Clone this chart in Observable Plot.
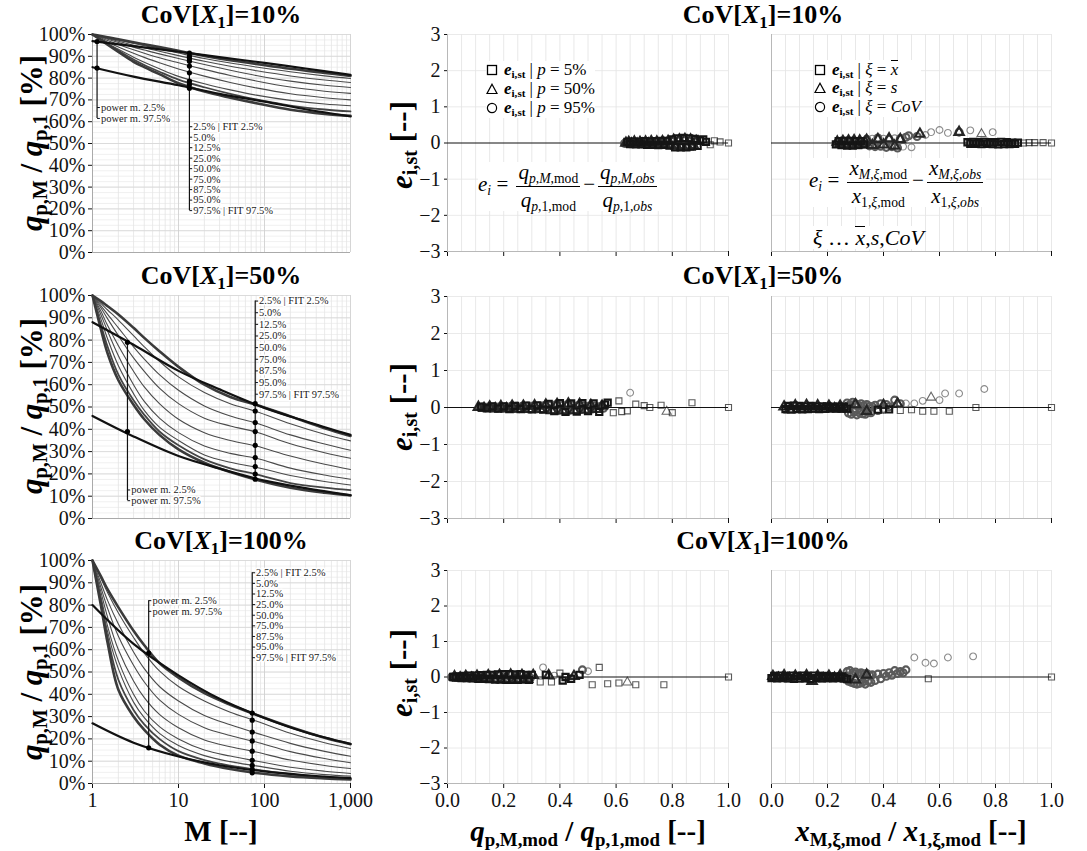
<!DOCTYPE html>
<html><head><meta charset="utf-8">
<script src="https://cdn.jsdelivr.net/npm/d3@7"></script>
<script src="https://cdn.jsdelivr.net/npm/@observablehq/plot@0.6"></script>
<style>
body{margin:0;background:#fff}
#root{position:relative;width:1087px;height:851px;overflow:hidden;font-family:"Liberation Serif","Times New Roman",serif;color:#000;background:#fff}
.abs{position:absolute;white-space:nowrap;transform:translate(-50%,-50%);line-height:1}
.rot{transform:translate(-50%,-50%) rotate(-90deg)}
.title{font-weight:bold;font-size:26px}
.ax{font-weight:bold;font-size:29px}
.axy{font-weight:bold;font-size:31px}
sub{font-size:0.65em;vertical-align:-0.28em;line-height:0}
.box{position:absolute;background:#fff;white-space:nowrap;line-height:1}
.frac{display:inline-flex;flex-direction:column;vertical-align:middle;text-align:center;margin:0 3px}
.frac .n{border-bottom:1.3px solid #000;padding:0 2px 3px}
.frac .d{padding:3px 2px 0}
.leg div{height:19px;font-size:17px}
</style></head>
<body><div id="root"></div>
<script>
// ---------------- DATA ----------------
const G = [1, 1.25, 1.5, 2, 3, 4, 6, 10, 20, 40, 80, 200, 500, 1000];
const quantLabels = ["2.5% | FIT 2.5%", "5.0%", "12.5%", "25.0%", "50.0%", "75.0%", "87.5%", "95.0%", "97.5% | FIT 97.5%"];
const powLabels = ["power m. 2.5%", "power m. 97.5%"];

const cov10Curves = [
  [100, 99.3, 98.7, 97.8, 96.4, 95.5, 94.2, 92.5, 90.2, 88.2, 86.5, 84.3, 82.4, 81.0],
  [100, 99.2, 98.5, 97.4, 95.9, 94.9, 93.4, 91.5, 89.0, 86.9, 85.1, 82.9, 81.0, 79.8],
  [100, 99.0, 98.2, 96.9, 95.1, 93.9, 92.3, 90.3, 87.7, 85.4, 83.4, 81.0, 79.1, 78.0],
  [100, 98.8, 97.8, 96.3, 94.2, 92.9, 91.1, 89.0, 86.2, 83.6, 81.2, 78.6, 76.7, 75.7],
  [100, 98.5, 97.2, 95.4, 93.0, 91.4, 89.3, 87.0, 84.0, 81.2, 78.7, 75.9, 74.0, 73.0],
  [100, 98.1, 96.5, 94.3, 91.4, 89.5, 87.0, 84.2, 80.9, 78.0, 75.5, 72.8, 71.0, 70.0],
  [100, 97.8, 95.9, 93.2, 89.6, 87.3, 84.3, 80.8, 77.4, 74.6, 72.2, 69.8, 68.1, 67.3],
  [100, 97.6, 95.6, 92.6, 88.5, 86.0, 82.9, 79.3, 75.8, 72.8, 70.2, 67.4, 65.6, 64.7],
  [100, 97.5, 95.3, 92.0, 87.5, 85.0, 81.8, 77.6, 73.8, 71.0, 68.5, 65.5, 63.6, 62.7]
];
const cov50Curves = [
  [100, 97.5, 95.2, 91.5, 85.5, 81.0, 75.0, 68.0, 60.0, 54.5, 51.0, 45.8, 40.5, 37.0],
  [100, 96.5, 93.5, 89.0, 82.0, 77.0, 70.5, 63.5, 56.5, 51.5, 48.0, 42.5, 37.8, 34.8],
  [100, 95.5, 91.5, 85.5, 77.0, 71.5, 64.5, 57.5, 50.5, 46.0, 42.8, 37.5, 33.4, 30.6],
  [100, 94.5, 89.5, 82.0, 72.0, 66.0, 58.5, 51.5, 45.0, 41.5, 38.8, 33.5, 29.5, 27.0],
  [100, 93.0, 86.5, 77.5, 66.0, 59.0, 51.5, 44.5, 38.5, 35.0, 32.5, 28.0, 24.3, 22.0],
  [100, 91.5, 84.0, 73.0, 60.0, 52.5, 45.0, 38.5, 32.5, 29.2, 27.0, 22.6, 19.5, 17.6],
  [100, 89.5, 80.5, 68.5, 56.0, 48.5, 41.0, 35.0, 28.5, 25.2, 23.0, 19.3, 16.6, 15.0],
  [100, 87.0, 77.0, 64.5, 53.0, 46.5, 39.0, 32.8, 26.5, 22.5, 19.8, 15.9, 13.8, 12.7],
  [100, 85.0, 74.0, 62.0, 51.0, 44.5, 37.5, 31.0, 25.0, 20.8, 17.4, 13.8, 11.6, 10.4]
];
const cov100Curves = [
  [100, 93.0, 87.0, 79.0, 68.5, 62.0, 54.0, 47.5, 40.5, 35.3, 30.8, 25.3, 20.5, 17.6],
  [100, 92.0, 85.5, 76.5, 65.5, 58.5, 50.5, 43.5, 37.0, 32.0, 28.0, 22.5, 18.3, 15.7],
  [100, 90.0, 82.0, 71.5, 59.0, 51.5, 43.5, 37.0, 30.5, 26.3, 22.6, 18.0, 14.4, 12.2],
  [100, 88.0, 78.5, 66.0, 53.0, 45.5, 37.5, 31.0, 25.0, 21.5, 18.6, 14.3, 11.2, 9.3],
  [100, 86.0, 74.5, 60.0, 46.0, 38.5, 31.0, 25.0, 19.5, 16.5, 14.1, 10.5, 8.1, 6.7],
  [100, 84.0, 70.5, 55.0, 40.0, 32.5, 25.5, 20.0, 15.0, 12.3, 10.1, 7.3, 5.5, 4.5],
  [100, 83.0, 68.0, 51.5, 36.5, 29.5, 22.5, 17.0, 12.5, 9.8, 7.9, 5.5, 4.0, 3.3],
  [100, 81.5, 65.5, 46.5, 33.0, 26.5, 20.0, 14.5, 10.5, 8.0, 6.2, 4.2, 2.9, 2.2],
  [100, 80.0, 63.0, 42.0, 30.0, 24.0, 17.5, 12.5, 9.0, 6.5, 4.7, 3.2, 2.3, 1.8]
];

const PM = [1, 3, 10, 30, 100, 300, 1000];
const pow10Hi = [97, 94.7, 92.1, 89.6, 87.0, 84.4, 81.5];
const pow10Lo = [85, 80.7, 76.7, 72.8, 69.2, 65.7, 62.4];
const pow50Hi = [88, 77.9, 66.2, 57.9, 49.6, 43.6, 37.5];
const pow50Lo = [46, 36.8, 28.0, 22.4, 17.0, 13.6, 10.4];
const pow100Hi = [80, 62.6, 48.5, 38.0, 29.4, 23.0, 17.8];
const pow100Lo = [27, 18.3, 12.1, 8.2, 5.4, 3.7, 2.4];

const powM10 = 1.13, powDots10 = [96.8, 84.6];
const powM50 = 2.55, powDots50 = [79, 39];
const powM100 = 4.5, powDots100 = [58.5, 16];
const qM10 = 13.4, qDots10 = [91.5, 90, 88.9, 87.7, 85.5, 82.4, 78.6, 77.1, 75.3];
const qM50 = 78, qDots50 = [51.5, 48.2, 43, 39, 32.8, 27.3, 23.3, 19.9, 17.6];
const qM100 = 72, qDots100 = [31.6, 28.4, 23.1, 19.1, 14.5, 10.4, 8.1, 6.3, 4.8];

// scatter CoV 10%
const sq10qX = [0.64,0.65,0.66,0.67,0.68,0.69,0.70,0.71,0.72,0.73,0.74,0.75,0.76,0.77,0.78,0.79,0.80,0.81,0.82,0.83,0.84,0.85,0.86,0.87,0.88,0.89,0.90,0.91,0.92,0.935,0.95,0.97,1.0];
const sq10qY = [0.03,-0.03,0.04,-0.04,0.03,-0.04,0.05,-0.05,0.04,-0.05,0.05,-0.06,0.06,-0.05,0.06,-0.07,0.10,-0.12,0.13,-0.12,0.14,-0.12,0.13,-0.10,0.11,-0.08,0.07,0.10,0.03,-0.05,0.06,0.03,0.0];
const tr10qX = [0.635,0.645,0.655,0.665,0.675,0.685,0.695,0.705,0.715,0.725,0.735,0.745,0.755,0.765,0.775,0.785,0.795,0.805,0.815,0.825,0.835,0.845,0.855,0.865,0.875,0.885];
const tr10qY = [0.0,0.02,-0.02,0.03,-0.03,0.02,-0.03,0.03,-0.02,0.04,-0.04,0.03,-0.04,0.04,-0.05,0.05,-0.06,0.08,-0.08,0.09,-0.09,0.1,-0.1,0.09,-0.07,0.05];
const ci10qX = [0.63,0.64,0.65,0.66,0.67,0.68,0.69,0.70,0.71,0.72,0.73,0.74,0.75,0.76,0.77,0.78,0.79,0.80,0.81,0.82,0.83,0.84,0.85,0.86,0.87,0.88];
const ci10qY = [-0.01,0.01,-0.02,0.02,-0.01,0.02,-0.02,0.01,-0.03,0.02,-0.02,0.03,-0.03,0.02,-0.03,0.03,-0.04,0.05,-0.06,0.06,-0.05,0.07,-0.06,0.05,-0.04,0.03];

const sq10xX = [0.23,0.24,0.25,0.26,0.27,0.28,0.29,0.30,0.31,0.32,0.33,0.70,0.71,0.72,0.73,0.74,0.75,0.76,0.77,0.78,0.79,0.80,0.81,0.82,0.83,0.84,0.85,0.86,0.87,0.88,0.90,0.92,0.94,0.97,1.0];
const sq10xY = [-0.04,0.05,-0.06,0.06,-0.07,0.06,-0.07,0.05,-0.06,0.05,-0.04,0.02,-0.02,0.03,-0.02,0.02,-0.03,0.03,-0.02,0.02,-0.03,0.02,-0.04,0.03,-0.03,0.02,-0.03,0.01,-0.02,0.01,0.0,0.01,0.01,0.01,0.0];
const tr10xX = [0.235,0.245,0.255,0.265,0.275,0.285,0.295,0.305,0.315,0.325,0.335,0.34,0.36,0.38,0.40,0.42,0.44,0.46,0.53,0.67,0.75];
const tr10xY = [0.03,-0.03,0.05,-0.05,0.06,-0.06,0.07,-0.05,0.06,-0.04,0.03,0.08,-0.06,0.1,-0.05,0.12,-0.08,0.1,0.25,0.3,0.25];
const ci10xX = [0.24,0.25,0.26,0.27,0.28,0.29,0.30,0.31,0.32,0.33,0.34,0.35,0.36,0.37,0.38,0.39,0.40,0.41,0.42,0.43,0.44,0.45,0.46,0.47,0.48,0.49,0.50,0.52,0.55,0.57,0.60,0.63,0.67,0.71,0.79];
const ci10xY = [0.02,-0.02,0.03,-0.03,0.02,-0.03,0.03,-0.02,0.02,-0.02,0.1,-0.08,0.12,-0.1,0.14,-0.09,0.12,-0.12,0.1,-0.1,0.13,-0.14,0.12,-0.1,0.16,0.2,-0.12,0.18,0.22,0.3,0.36,0.28,0.3,0.35,0.3];

// scatter CoV 50%
const sq50qX = [0.12,0.14,0.16,0.18,0.20,0.22,0.24,0.26,0.28,0.30,0.32,0.34,0.36,0.38,0.40,0.42,0.44,0.46,0.48,0.50,0.52,0.54,0.56,0.57,0.59,0.61,0.62,0.64,0.67,0.70,0.72,0.76,0.80,0.87,1.0];
const sq50qY = [0.02,-0.02,0.03,-0.03,0.03,-0.04,0.04,-0.04,0.05,-0.05,0.06,-0.06,0.1,-0.1,0.12,-0.12,0.11,-0.11,0.12,-0.1,0.11,-0.12,0.08,0.13,-0.14,0.18,-0.11,-0.09,0.09,0.05,0.0,0.06,-0.14,0.13,0.0];
const tr50qX = [0.11,0.13,0.15,0.17,0.19,0.21,0.23,0.25,0.27,0.29,0.31,0.33,0.35,0.37,0.39,0.41,0.43,0.45,0.47,0.49,0.51,0.53,0.55,0.78];
const tr50qY = [0.01,-0.02,0.02,-0.03,0.03,-0.03,0.04,-0.04,0.04,-0.05,0.05,-0.05,0.07,-0.08,0.09,-0.09,0.1,-0.08,0.09,-0.07,0.06,-0.05,0.04,-0.11];
const ci50qX = [0.115,0.125,0.135,0.145,0.155,0.165,0.175,0.185,0.195,0.205,0.215,0.225,0.235,0.245,0.255,0.265,0.275,0.285,0.295,0.305,0.315,0.325,0.335,0.345,0.355,0.365,0.375,0.385,0.395,0.405,0.415,0.425,0.435,0.445,0.455,0.465,0.475,0.485,0.495,0.505,0.515,0.525,0.535,0.545,0.555,0.65];
const ci50qY = [0.0,0.01,-0.01,0.01,-0.01,0.02,-0.02,0.02,-0.02,0.02,-0.02,0.03,-0.03,0.03,-0.03,0.03,-0.03,0.04,-0.04,0.04,-0.04,0.04,-0.04,0.05,-0.05,0.06,-0.06,0.07,-0.07,0.06,-0.06,0.07,-0.07,0.06,-0.06,0.05,-0.05,0.05,-0.05,0.04,-0.04,0.04,-0.03,0.03,-0.02,0.4];

const sq50xX = [0.05,0.06,0.07,0.08,0.09,0.10,0.11,0.12,0.13,0.14,0.15,0.16,0.17,0.18,0.19,0.20,0.21,0.22,0.23,0.24,0.25,0.26,0.27,0.38,0.42,0.46,0.50,0.54,0.58,0.635,0.73,1.0];
const sq50xY = [-0.04,0.04,-0.05,0.05,-0.04,0.04,-0.05,0.03,-0.04,0.04,-0.03,0.03,-0.04,0.03,-0.03,0.03,-0.02,0.02,-0.03,0.02,-0.03,0.02,-0.03,-0.06,-0.05,-0.08,-0.06,-0.1,-0.1,-0.1,0.0,0.0];
const tr50xX = [0.045,0.065,0.085,0.105,0.125,0.145,0.165,0.185,0.205,0.225,0.245,0.265,0.30,0.34,0.40,0.45,0.57];
const tr50xY = [0.02,-0.06,0.05,-0.05,0.06,-0.04,0.05,-0.05,0.04,-0.03,0.04,-0.04,0.08,-0.1,0.06,0.1,0.27];
const ci50xX = [0.27,0.275,0.28,0.285,0.29,0.295,0.30,0.305,0.31,0.315,0.32,0.325,0.33,0.335,0.34,0.345,0.35,0.355,0.36,0.37,0.38,0.39,0.40,0.41,0.42,0.44,0.46,0.48,0.51,0.54,0.60,0.62,0.67,0.76];
const ci50xY = [0.12,-0.15,0.08,-0.18,0.14,-0.12,0.1,-0.2,0.06,-0.15,0.1,-0.17,0.05,-0.18,0.08,-0.12,0.03,-0.14,0.02,0.06,-0.08,0.1,-0.05,0.08,0.02,0.2,0.1,0.11,0.11,0.18,0.2,0.38,0.38,0.5];

// scatter CoV 100%
const sq100qX = [0.02,0.03,0.04,0.05,0.06,0.07,0.08,0.09,0.10,0.11,0.12,0.13,0.14,0.15,0.16,0.17,0.18,0.19,0.20,0.21,0.22,0.23,0.24,0.25,0.26,0.27,0.28,0.29,0.30,0.33,0.35,0.37,0.40,0.41,0.42,0.44,0.47,0.515,0.54,0.57,0.61,0.67,0.77,1.0];
const sq100qY = [0.0,-0.02,0.02,-0.03,0.03,-0.03,0.04,-0.04,0.04,-0.05,0.05,-0.05,0.06,-0.06,0.06,-0.07,0.07,-0.07,0.08,-0.08,0.08,-0.08,0.07,-0.08,0.08,-0.07,0.06,-0.08,0.06,-0.14,0.06,-0.14,0.11,-0.1,0.0,-0.05,0.06,-0.22,0.27,-0.19,-0.17,-0.22,-0.22,0.0];
const tr100qX = [0.025,0.045,0.065,0.085,0.105,0.125,0.145,0.165,0.185,0.205,0.225,0.245,0.265,0.285,0.305,0.36,0.45,0.64];
const tr100qY = [0.01,-0.02,0.02,-0.03,0.03,-0.04,0.04,-0.05,0.05,-0.06,0.06,-0.06,0.05,-0.06,0.05,0.04,0.02,-0.15];
const ci100qX = [0.015,0.025,0.035,0.045,0.055,0.065,0.075,0.085,0.095,0.105,0.115,0.125,0.135,0.145,0.155,0.165,0.175,0.185,0.195,0.205,0.215,0.225,0.235,0.245,0.255,0.265,0.275,0.285,0.295,0.34,0.38,0.48,0.50];
const ci100qY = [0.0,0.01,-0.01,0.02,-0.02,0.02,-0.03,0.03,-0.03,0.04,-0.04,0.04,-0.05,0.05,-0.05,0.05,-0.06,0.06,-0.06,0.06,-0.05,0.06,-0.05,0.05,-0.04,0.05,-0.04,0.04,-0.03,0.27,0.04,0.2,0.16];

const sq100xX = [0.00,0.01,0.02,0.03,0.04,0.05,0.06,0.07,0.08,0.09,0.10,0.11,0.12,0.13,0.14,0.15,0.16,0.17,0.18,0.19,0.20,0.21,0.22,0.23,0.24,0.25,0.26,0.27,0.56,1.0];
const sq100xY = [-0.03,0.03,-0.04,0.04,-0.03,0.03,-0.04,0.04,-0.05,0.03,-0.04,0.04,-0.03,0.03,-0.05,0.04,-0.03,0.03,-0.04,0.03,-0.03,0.02,-0.04,0.02,-0.03,0.02,-0.04,-0.06,-0.05,0.0];
const tr100xX = [0.005,0.025,0.045,0.065,0.085,0.105,0.125,0.145,0.165,0.185,0.205,0.225,0.245,0.265,0.30,0.34];
const tr100xY = [0.02,-0.03,0.04,-0.04,0.03,-0.05,0.04,-0.12,0.03,-0.04,0.03,-0.03,0.04,-0.05,-0.08,0.06];
const ci100xX = [0.27,0.275,0.28,0.285,0.29,0.295,0.30,0.305,0.31,0.315,0.32,0.325,0.33,0.335,0.34,0.345,0.35,0.355,0.36,0.37,0.38,0.39,0.40,0.41,0.42,0.43,0.44,0.45,0.46,0.47,0.48,0.51,0.55,0.58,0.63,0.72];
const ci100xY = [0.15,-0.12,0.18,-0.15,0.12,-0.18,0.14,-0.2,0.1,-0.18,0.12,-0.15,0.08,-0.2,0.1,-0.12,0.05,-0.15,0.06,-0.1,0.08,-0.05,0.1,0.02,0.12,0.05,0.18,0.1,0.15,0.12,0.2,0.55,0.4,0.38,0.55,0.58];

// ---------------- DRAWING ----------------
const root = document.getElementById("root");
const FONT = "'Liberation Serif','Times New Roman',serif";

function place(node, left, top) {
  node.style.position = "absolute";
  node.style.left = left + "px";
  node.style.top = top + "px";
  root.appendChild(node);
}
function label(html, cx, cy, cls, rot) {
  const d = document.createElement("div");
  d.className = "abs " + cls + (rot ? " rot" : "");
  d.innerHTML = html;
  d.style.left = cx + "px";
  d.style.top = cy + "px";
  root.appendChild(d);
}

const minorX = [];
for (let e = 0; e < 3; e++) for (let k = 2; k < 10; k++) minorX.push(k * Math.pow(10, e));

function leftPanel(c) {
  const lines = c.curves.flatMap((arr, k) => arr.map((v, i) => ({M: G[i], v, k})));
  const pows = [
    ...c.powHi.map((v, i) => ({M: PM[i], v, k: "hi"})),
    ...c.powLo.map((v, i) => ({M: PM[i], v, k: "lo"}))
  ];
  const powLab = powLabels.map((t, i) => ({t, y: c.powLabY[i]}));
  const qLab = quantLabels.map((t, i) => ({t, y: c.qLabStart - i * c.qLabStep}));
  const pExt = d3.extent([...c.powDots, ...c.powLabY]);
  const qExt = d3.extent([...c.qDots, ...qLab.map(d => d.y)]);
  const txt = {textAnchor: "start", dx: 1, fontSize: 10.5, fill: "#222", stroke: "#fff", strokeWidth: 3, paintOrder: "stroke"};
  return Plot.plot({
    width: 375, height: c.mt + c.ph + c.mb,
    marginLeft: 92, marginRight: 25, marginTop: c.mt, marginBottom: c.mb,
    style: {fontFamily: FONT, fontSize: "20px", background: "transparent", color: "#111"},
    x: {type: "log", domain: [1, 1000], ticks: [1, 10, 100, 1000],
        tickFormat: c.bottom ? d3.format(",") : () => "", tickSize: c.bottom ? 5 : 0, label: null},
    y: {domain: [0, 100], ticks: d3.range(0, 101, 10), tickFormat: d => d + "%", tickSize: 4, tickPadding: 3, label: null},
    marks: [
      Plot.ruleY(d3.range(0, 100.1, 2.5), {stroke: "#ececec", strokeWidth: 0.8}),
      Plot.ruleX(minorX, {stroke: "#e4e4e4", strokeWidth: 0.8}),
      Plot.ruleY(d3.range(10, 100.1, 10), {stroke: "#d6d6d6", strokeWidth: 0.8}),
      Plot.ruleX([10, 100, 1000], {stroke: "#d0d0d0", strokeWidth: 0.9}),
      Plot.ruleX([1], {stroke: "#aaa"}),
      Plot.ruleY([0], {stroke: "#aaa"}),
      Plot.line(lines.filter(d => d.k > 0 && d.k < 7), {x: "M", y: "v", z: "k", stroke: "#4a4a4a", strokeWidth: 1.1, curve: "catmull-rom"}),
      Plot.line(lines.filter(d => d.k === 7), {x: "M", y: "v", z: "k", stroke: "#444", strokeWidth: 1.8, curve: "catmull-rom"}),
      Plot.line(lines.filter(d => d.k === 0 || d.k === 8), {x: "M", y: "v", z: "k", stroke: "#3a3a3a", strokeWidth: 2.6, curve: "catmull-rom"}),
      Plot.line(pows, {x: "M", y: "v", z: "k", stroke: "#111", strokeWidth: 2.2, curve: "catmull-rom"}),
      Plot.ruleX([c.powM], {x: d => d, y1: () => pExt[0], y2: () => pExt[1], stroke: "#111", strokeWidth: 1.2}),
      Plot.ruleX([c.qM], {x: d => d, y1: () => qExt[0], y2: () => qExt[1], stroke: "#111", strokeWidth: 1.2}),
      Plot.link(powLab, {x1: () => c.powM, x2: () => c.powM * 1.08, y1: "y", y2: "y", stroke: "#111", strokeWidth: 1}),
      Plot.link(qLab, {x1: () => c.qM, x2: () => c.qM * 1.08, y1: "y", y2: "y", stroke: "#111", strokeWidth: 1}),
      Plot.text(powLab, {x: () => c.powM * 1.08, y: "y", text: "t", ...txt}),
      Plot.text(qLab, {x: () => c.qM * 1.08, y: "y", text: "t", ...txt}),
      Plot.dot(c.powDots, {x: () => c.powM, y: d => d, fill: "#000", r: 2.6}),
      Plot.dot(c.qDots, {x: () => c.qM, y: d => d, fill: "#000", r: 2.6})
    ]
  });
}

function scatterPanel(c) {
  const rows = [
    ...c.cx.map((x, i) => ({x, y: c.cy[i], s: "circle"})),
    ...c.tx.map((x, i) => ({x, y: c.ty[i], s: "triangle"})),
    ...c.sx.map((x, i) => ({x, y: c.sy[i], s: "square"}))
  ];
  // a point belongs to a dense cloud when another point lies very close to it
  rows.forEach(d => {
    d.dense = rows.some(e => e !== d && Math.abs(e.x - d.x) <= 0.012 && Math.abs(e.y - d.y) <= 0.16);
  });
  const dense = rows.filter(d => d.dense), sparse = rows.filter(d => !d.dense);
  return Plot.plot({
    width: c.w, height: c.mt + c.ph + c.mb,
    marginLeft: c.ml, marginRight: c.w - c.ml - c.pw, marginTop: c.mt, marginBottom: c.mb,
    style: {fontFamily: FONT, fontSize: "20px", background: "transparent", color: "#111"},
    x: {domain: [0, 1], ticks: [0, 0.2, 0.4, 0.6, 0.8, 1.0], tickFormat: c.bottom ? d3.format(".1f") : () => "", tickSize: 5, label: null},
    y: {domain: [-3, 3], ticks: d3.range(-3, 4), tickFormat: d3.format("d"), axis: c.showY ? "left" : null, tickSize: 3, tickPadding: 4, label: null},
    symbol: {domain: ["square", "triangle", "circle"], range: ["square", "triangle", "circle"]},
    color: {domain: ["square", "triangle", "circle"], range: ["#151515", "#262626", "#5a5a5a"]},
    marks: [
      Plot.ruleX(d3.range(0.05, 1.001, 0.05), {stroke: "#e2e2e2", strokeWidth: 0.8}),
      Plot.ruleY([-2, -1, 1, 2, 3], {stroke: "#e4e4e4", strokeWidth: 0.8}),
      Plot.ruleX([0], {stroke: "#b8b8b8"}),
      Plot.ruleY([-3], {stroke: "#b8b8b8"}),
      Plot.ruleY([0], {stroke: "#111", strokeWidth: 1.1}),
      Plot.dot(sparse, {x: "x", y: "y", symbol: "s", stroke: "s", strokeOpacity: 0.7, fill: "none", r: 3.4, strokeWidth: 1.1}),
      Plot.dot(dense, {x: "x", y: "y", symbol: "s", stroke: "s", fill: "none", r: 3.5, strokeWidth: 2.1})
    ]
  });
}

const leftRows = [
  {top: 24, mt: 10, ph: 218, mb: 12},
  {top: 285, mt: 10, ph: 223, mb: 12},
  {top: 550, mt: 10, ph: 223, mb: 45}
];
const scRows = [
  {top: 24, mt: 10, ph: 217, mb: 12},
  {top: 286, mt: 10, ph: 222, mb: 12},
  {top: 560, mt: 10, ph: 213, mb: 45}
];

const leftCfg = [
  {curves: cov10Curves, powHi: pow10Hi, powLo: pow10Lo, powM: powM10, powDots: powDots10, powLabY: [66.5, 61.5],
   qM: qM10, qDots: qDots10, qLabStart: 57.7, qLabStep: 4.81},
  {curves: cov50Curves, powHi: pow50Hi, powLo: pow50Lo, powM: powM50, powDots: powDots50, powLabY: [12.8, 8.0],
   qM: qM50, qDots: qDots50, qLabStart: 97.5, qLabStep: 5.22},
  {curves: cov100Curves, powHi: pow100Hi, powLo: pow100Lo, powM: powM100, powDots: powDots100, powLabY: [82, 77.2],
   qM: qM100, qDots: qDots100, qLabStart: 94.5, qLabStep: 4.76}
];
const midCfg = [
  {sx: sq10qX, sy: sq10qY, tx: tr10qX, ty: tr10qY, cx: ci10qX, cy: ci10qY},
  {sx: sq50qX, sy: sq50qY, tx: tr50qX, ty: tr50qY, cx: ci50qX, cy: ci50qY},
  {sx: sq100qX, sy: sq100qY, tx: tr100qX, ty: tr100qY, cx: ci100qX, cy: ci100qY}
];
const rightCfg = [
  {sx: sq10xX, sy: sq10xY, tx: tr10xX, ty: tr10xY, cx: ci10xX, cy: ci10xY},
  {sx: sq50xX, sy: sq50xY, tx: tr50xX, ty: tr50xY, cx: ci50xX, cy: ci50xY},
  {sx: sq100xX, sy: sq100xY, tx: tr100xX, ty: tr100xY, cx: ci100xX, cy: ci100xY}
];

for (let r = 0; r < 3; r++) {
  const L = leftRows[r], S = scRows[r], bottom = r === 2;
  place(leftPanel({...leftCfg[r], ...L, bottom}), 0, L.top);
  place(scatterPanel({...midCfg[r], ...S, bottom, showY: true, w: 380, ml: 67, pw: 281}), 380, S.top);
  place(scatterPanel({...rightCfg[r], ...S, bottom, showY: false, w: 328, ml: 12, pw: 280}), 759, S.top);
}

// titles
const covs = ["10%", "50%", "100%"];
const titleY = [15, 276, 541];
covs.forEach((cv, i) => {
  const t = `CoV[<i>X</i><sub>1</sub>]=${cv}`;
  label(t, 221, titleY[i], "title");
  label(t, 763, titleY[i], "title");
});

// axis titles
const yLeft = `<i>q</i><sub>p,M</sub> / <i>q</i><sub>p,1</sub> [%]`;
const yMid = `<i>e</i><sub>i,st</sub> [--]`;
[143, 406, 672].forEach(cy => label(yLeft, 31, cy, "axy", true));
[145, 407, 673].forEach(cy => label(yMid, 401, cy, "axy", true));
label(`M [--]`, 221, 831, "ax");
label(`<i>q</i><sub>p,M,mod</sub> / <i>q</i><sub>p,1,mod</sub> [--]`, 588, 831, "ax");
label(`<i>x</i><sub>M,ξ,mod</sub> / <i>x</i><sub>1,ξ,mod</sub> [--]`, 911, 831, "ax");

// legends
const symSq = `<svg width="12" height="12" style="vertical-align:-1px;margin-right:6px"><rect x="1.5" y="1.5" width="9" height="9" fill="none" stroke="#000" stroke-width="1.3"/></svg>`;
const symTr = `<svg width="12" height="12" style="vertical-align:-1px;margin-right:6px"><polygon points="6,1.2 11,10.5 1,10.5" fill="none" stroke="#000" stroke-width="1.2"/></svg>`;
const symCi = `<svg width="12" height="12" style="vertical-align:-1px;margin-right:6px"><circle cx="6" cy="6" r="4.6" fill="none" stroke="#000" stroke-width="1.2"/></svg>`;
const eist = `<b><i>e</i><sub>i,st</sub></b>`;
const xbar = `<span style="display:inline-block;border-top:1px solid #000;line-height:0.9;padding-top:1px"><i>x</i></span>`;

function box(html, left, top, cls, fs) {
  const d = document.createElement("div");
  d.className = "box " + (cls || "");
  d.innerHTML = html;
  d.style.left = left + "px";
  d.style.top = top + "px";
  if (fs) d.style.fontSize = fs + "px";
  root.appendChild(d);
}
box(`<div>${symSq}${eist} | <i>p</i> = 5%</div><div>${symTr}${eist} | <i>p</i> = 50%</div><div>${symCi}${eist} | <i>p</i> = 95%</div>`,
    486, 61, "leg");
box(`<div>${symSq}${eist} | <i>ξ</i> = ${xbar}</div><div>${symTr}${eist} | <i>ξ</i> = <i>s</i></div><div>${symCi}${eist} | <i>ξ</i> = <i>CoV</i></div>`,
    814, 60, "leg");

const frac = (n, d) => `<span class="frac"><span class="n">${n}</span><span class="d">${d}</span></span>`;
box(`<i>e<sub>i</sub></i> = ${frac(`<i>q</i><sub><i>p</i>,<i>M</i>,mod</sub>`, `<i>q</i><sub><i>p</i>,1,mod</sub>`)}−${frac(`<i>q</i><sub><i>p</i>,<i>M</i>,<i>obs</i></sub>`, `<i>q</i><sub><i>p</i>,1,<i>obs</i></sub>`)}`,
    478, 162, "", 21);
box(`<i>e<sub>i</sub></i> = ${frac(`<i>x</i><sub><i>M</i>,<i>ξ</i>,mod</sub>`, `<i>x</i><sub>1,<i>ξ</i>,mod</sub>`)}−${frac(`<i>x</i><sub><i>M</i>,<i>ξ</i>,<i>obs</i></sub>`, `<i>x</i><sub>1,<i>ξ</i>,<i>obs</i></sub>`)}`,
    809, 158, "", 21);
box(`<i>ξ</i> … ${xbar},<i>s</i>,<i>CoV</i>`, 813, 226, "", 22);
</script>
</body></html>
